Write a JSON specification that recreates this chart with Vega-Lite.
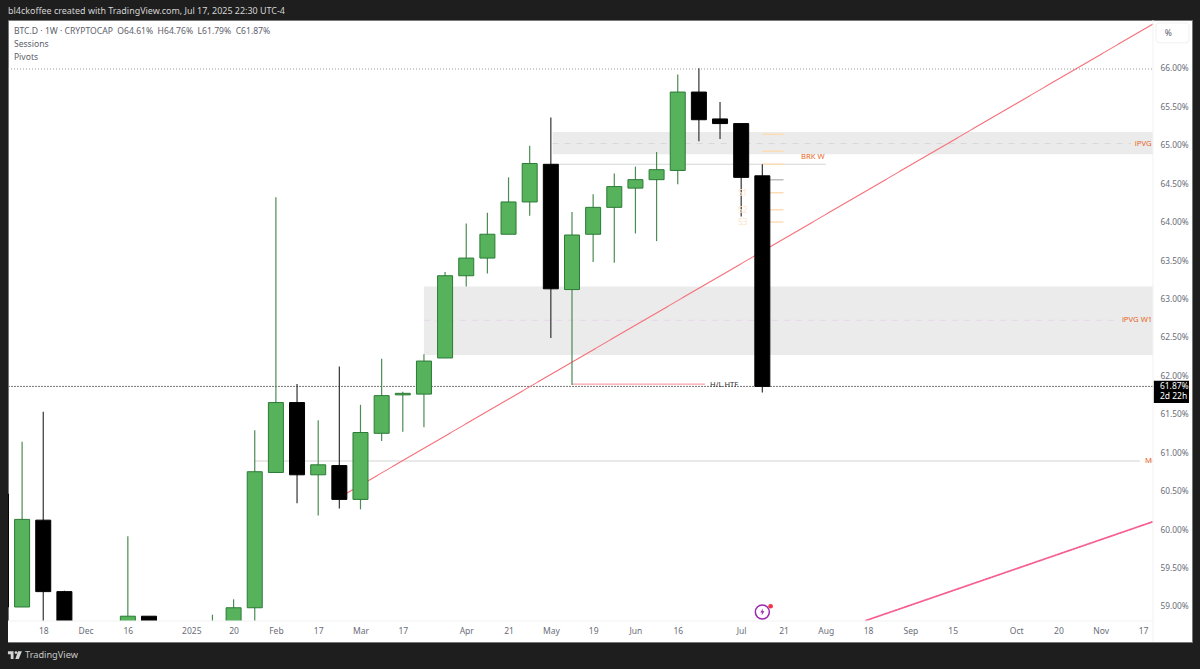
{
  "$schema": "https://vega.github.io/schema/vega-lite/v6.json",
  "autosize": "none",
  "width": 1184,
  "height": 622,
  "padding": {"left": 8, "top": 20, "right": 8, "bottom": 27},
  "background": "#1e1e1e",
  "view": {"fill": "#ffffff", "stroke": "#777777"},
  "config": {"font": "Noto Sans"},
  "resolve": {"scale": {"color": "independent"}},
  "datasets": {
    "candles": [
      {"d": "2024-11-04", "open": 60.47, "high": 60.47, "low": 59.0, "close": 59.0},
      {"d": "2024-11-11", "open": 59.0, "high": 61.15, "low": 59.0, "close": 60.14},
      {"d": "2024-11-18", "open": 60.13, "high": 61.54, "low": 58.6, "close": 59.2},
      {"d": "2024-11-25", "open": 59.2, "high": 59.21, "low": 58.5, "close": 58.6},
      {"d": "2024-12-16", "open": 58.6, "high": 59.92, "low": 58.5, "close": 58.88},
      {"d": "2024-12-23", "open": 58.88, "high": 58.88, "low": 58.5, "close": 58.6},
      {"d": "2025-01-13", "open": 58.6, "high": 58.9, "low": 58.5, "close": 58.7},
      {"d": "2025-01-20", "open": 58.6, "high": 59.1, "low": 58.5, "close": 58.99},
      {"d": "2025-01-27", "open": 58.99, "high": 61.3, "low": 58.6, "close": 60.76},
      {"d": "2025-02-03", "open": 60.75, "high": 64.33, "low": 60.75, "close": 61.66},
      {"d": "2025-02-10", "open": 61.66, "high": 61.9, "low": 60.35, "close": 60.72},
      {"d": "2025-02-17", "open": 60.72, "high": 61.43, "low": 60.19, "close": 60.85},
      {"d": "2025-02-24", "open": 60.84, "high": 62.13, "low": 60.28, "close": 60.4},
      {"d": "2025-03-03", "open": 60.4, "high": 61.63, "low": 60.27, "close": 61.27},
      {"d": "2025-03-10", "open": 61.26, "high": 62.23, "low": 61.16, "close": 61.75},
      {"d": "2025-03-17", "open": 61.76, "high": 61.8, "low": 61.28, "close": 61.78},
      {"d": "2025-03-24", "open": 61.77, "high": 62.29, "low": 61.34, "close": 62.2},
      {"d": "2025-03-31", "open": 62.24, "high": 63.36, "low": 62.24, "close": 63.31},
      {"d": "2025-04-07", "open": 63.31, "high": 63.99, "low": 63.17, "close": 63.54},
      {"d": "2025-04-14", "open": 63.54, "high": 64.13, "low": 63.34, "close": 63.85},
      {"d": "2025-04-21", "open": 63.85, "high": 64.59, "low": 63.85, "close": 64.27},
      {"d": "2025-04-28", "open": 64.27, "high": 65.0, "low": 64.09, "close": 64.77},
      {"d": "2025-05-05", "open": 64.76, "high": 65.37, "low": 62.5, "close": 63.14},
      {"d": "2025-05-12", "open": 63.13, "high": 64.14, "low": 61.89, "close": 63.84},
      {"d": "2025-05-19", "open": 63.85, "high": 64.37, "low": 63.49, "close": 64.2},
      {"d": "2025-05-26", "open": 64.2, "high": 64.64, "low": 63.48, "close": 64.47},
      {"d": "2025-06-02", "open": 64.45, "high": 64.73, "low": 63.86, "close": 64.56},
      {"d": "2025-06-09", "open": 64.56, "high": 64.92, "low": 63.76, "close": 64.69},
      {"d": "2025-06-16", "open": 64.68, "high": 65.93, "low": 64.5, "close": 65.7},
      {"d": "2025-06-23", "open": 65.7, "high": 66.01, "low": 65.06, "close": 65.34},
      {"d": "2025-06-30", "open": 65.35, "high": 65.57, "low": 65.09, "close": 65.29},
      {"d": "2025-07-07", "open": 65.29, "high": 65.29, "low": 64.08, "close": 64.59},
      {"d": "2025-07-14", "open": 64.61, "high": 64.76, "low": 61.79, "close": 61.87}
    ],
    "segments": [
      {"series": "top", "d": "2024-11-06T08:00Z", "d2": "2025-11-20T07:00Z", "v": 66.0, "v2": 66.0},
      {"series": "last", "d": "2024-11-06T08:00Z", "d2": "2025-11-20T07:00Z", "v": 61.87, "v2": 61.87},
      {"series": "ipvg", "d": "2025-05-05T14:00Z", "d2": "2025-11-13T00:00Z", "v": 65.03, "v2": 65.03},
      {"series": "ipvgw", "d": "2025-03-24", "d2": "2025-11-09T00:00Z", "v": 62.73, "v2": 62.73},
      {"series": "level", "d": "2025-05-05", "d2": "2025-08-04", "v": 64.76, "v2": 64.76},
      {"series": "level", "d": "2025-01-27", "d2": "2025-11-15T22:00Z", "v": 60.9, "v2": 60.9},
      {"series": "level", "d": "2025-11-19T07:00Z", "d2": "2025-11-20T07:00Z", "v": 60.9, "v2": 60.9},
      {"series": "htf", "d": "2025-05-12", "d2": "2025-06-25", "v": 61.9, "v2": 61.9},
      {"series": "trend", "d": "2025-02-26", "d2": "2025-11-20T07:00Z", "v": 60.47, "v2": 66.585},
      {"series": "channel", "d": "2025-08-17", "d2": "2025-11-20T07:00Z", "v": 58.82, "v2": 60.11},
      {"series": "pivot", "d": "2025-07-14", "d2": "2025-07-21", "v": 65.15, "v2": 65.15},
      {"series": "pivot", "d": "2025-07-14", "d2": "2025-07-21", "v": 64.93, "v2": 64.93},
      {"series": "pivot", "d": "2025-07-14", "d2": "2025-07-21", "v": 64.76, "v2": 64.76},
      {"series": "pivotp", "d": "2025-07-14", "d2": "2025-07-21", "v": 64.56, "v2": 64.56},
      {"series": "pivot", "d": "2025-07-14", "d2": "2025-07-21", "v": 64.39, "v2": 64.39},
      {"series": "pivot", "d": "2025-07-14", "d2": "2025-07-21", "v": 64.17, "v2": 64.17},
      {"series": "pivot", "d": "2025-07-14", "d2": "2025-07-21", "v": 64.01, "v2": 64.01}
    ],
    "labels": [
      {"group": "head", "d": "2024-11-06T08:00Z", "v": 66.755, "label": "bl4ckoffee created with TradingView.com, Jul 17, 2025 22:30 UTC-4"},
      {"group": "legend", "d": "2024-11-08T07:00Z", "v": 66.495, "label": "BTC.D · 1W · CRYPTOCAP\u00a0\u00a0O64.61%\u00a0\u00a0H64.76%\u00a0\u00a0L61.79%\u00a0\u00a0C61.87%"},
      {"group": "legend", "d": "2024-11-08T07:00Z", "v": 66.325, "label": "Sessions"},
      {"group": "legend", "d": "2024-11-08T07:00Z", "v": 66.155, "label": "Pivots"},
      {"group": "brand", "d": "2024-11-11T23:00Z", "v": 58.375, "label": "TradingView"},
      {"group": "orange", "d": "2025-07-26T19:00Z", "v": 64.855, "label": "BRK W"},
      {"group": "orange", "d": "2025-11-14T07:00Z", "v": 65.03, "label": "iPVG"},
      {"group": "orange", "d": "2025-11-10T00:00Z", "v": 62.73, "label": "iPVG W1"},
      {"group": "orange", "d": "2025-11-17T15:00Z", "v": 60.9, "label": "M"},
      {"group": "dark", "d": "2025-06-26T17:00Z", "v": 61.89, "label": "H/L HTF"},
      {"group": "pale", "d": "2025-07-05T22:00Z", "v": 64.39, "label": "S1"},
      {"group": "pale", "d": "2025-07-05T22:00Z", "v": 64.17, "label": "S2"},
      {"group": "pale", "d": "2025-07-05T22:00Z", "v": 64.01, "label": "S3"},
      {"group": "legend", "d": "2025-11-24T05:00Z", "v": 66.47, "label": "%"},
      {"group": "tag", "d": "2025-11-22T14:00Z", "v": 61.87, "label": "61.87%"},
      {"group": "tag", "d": "2025-11-22T14:00Z", "v": 61.74, "label": "2d 22h"}
    ]
  },
  "encoding": {
    "x": {
      "field": "d",
      "type": "temporal",
      "title": null,
      "scale": {
        "type": "utc",
        "padding": 0,
        "domain": [
          {"year": 2024, "month": 11, "date": 6, "hours": 8, "utc": true},
          {"year": 2025, "month": 12, "date": 3, "hours": 5, "utc": true}
        ]
      },
      "axis": {
        "orient": "bottom",
        "offset": -21,
        "zindex": 1,
        "domain": false,
        "ticks": false,
        "grid": false,
        "labelFontSize": 8.5,
        "labelColor": "#6a6d78",
        "labelPadding": 5,
        "labelOverlap": false,
        "labelFlush": false,
        "values": [
          {"year": 2024, "month": 11, "date": 18, "utc": true},
          {"year": 2024, "month": 12, "date": 2, "utc": true},
          {"year": 2024, "month": 12, "date": 16, "utc": true},
          {"year": 2025, "month": 1, "date": 6, "utc": true},
          {"year": 2025, "month": 1, "date": 20, "utc": true},
          {"year": 2025, "month": 2, "date": 3, "utc": true},
          {"year": 2025, "month": 2, "date": 17, "utc": true},
          {"year": 2025, "month": 3, "date": 3, "utc": true},
          {"year": 2025, "month": 3, "date": 17, "utc": true},
          {"year": 2025, "month": 4, "date": 7, "utc": true},
          {"year": 2025, "month": 4, "date": 21, "utc": true},
          {"year": 2025, "month": 5, "date": 5, "utc": true},
          {"year": 2025, "month": 5, "date": 19, "utc": true},
          {"year": 2025, "month": 6, "date": 2, "utc": true},
          {"year": 2025, "month": 6, "date": 16, "utc": true},
          {"year": 2025, "month": 7, "date": 7, "utc": true},
          {"year": 2025, "month": 7, "date": 21, "utc": true},
          {"year": 2025, "month": 8, "date": 4, "utc": true},
          {"year": 2025, "month": 8, "date": 18, "utc": true},
          {"year": 2025, "month": 9, "date": 1, "utc": true},
          {"year": 2025, "month": 9, "date": 15, "utc": true},
          {"year": 2025, "month": 10, "date": 6, "utc": true},
          {"year": 2025, "month": 10, "date": 20, "utc": true},
          {"year": 2025, "month": 11, "date": 3, "utc": true},
          {"year": 2025, "month": 11, "date": 17, "utc": true}
        ],
        "labelExpr": "utcdate(datum.value) <= 7 ? (utcmonth(datum.value) == 0 ? utcFormat(datum.value, '%Y') : utcFormat(datum.value, '%b')) : utcFormat(datum.value, '%-d')"
      }
    },
    "y": {
      "field": "v",
      "type": "quantitative",
      "title": null,
      "scale": {"domain": [58.5445, 66.6375], "nice": false, "zero": false},
      "axis": {
        "orient": "right",
        "offset": -39,
        "zindex": 1,
        "domain": false,
        "ticks": false,
        "grid": false,
        "labelFontSize": 8.3,
        "labelColor": "#6a6d78",
        "labelPadding": 7,
        "labelOverlap": false,
        "values": [59, 59.5, 60, 60.5, 61, 61.5, 62, 62.5, 63, 63.5, 64, 64.5, 65, 65.5, 66],
        "labelExpr": "format(datum.value, '.2f') + '%'"
      }
    }
  },
  "layer": [
    {
      "data": {"values": [
        {"d": "2025-05-05T14:00Z", "d2": "2025-11-20T07:00Z", "v": 65.18, "v2": 64.89},
        {"d": "2025-03-24", "d2": "2025-11-20T07:00Z", "v": 63.17, "v2": 62.28}
      ]},
      "mark": {"type": "rect", "fill": "#ebebeb", "clip": true},
      "encoding": {"x2": {"field": "d2"}, "y2": {"field": "v2"}}
    },
    {
      "data": {"name": "segments"},
      "mark": {"type": "rule", "clip": true},
      "encoding": {
        "x2": {"field": "d2"},
        "y2": {"field": "v2"},
        "color": {
          "field": "series",
          "type": "nominal",
          "legend": null,
          "scale": {
            "domain": ["top", "last", "ipvg", "ipvgw", "level", "htf", "trend", "channel", "pivot", "pivotp"],
            "range": ["#9a9a9a", "#777777", "#d9d9d9", "#e6d6e8", "#d4d4d4", "#f6a3aa", "#f5707a", "#f55f92", "#fcdcb5", "#bdbdbd"]
          }
        },
        "strokeWidth": {
          "field": "series",
          "type": "nominal",
          "legend": null,
          "scale": {
            "type": "ordinal",
            "domain": ["top", "last", "ipvg", "ipvgw", "level", "htf", "trend", "channel", "pivot", "pivotp"],
            "range": [1, 1, 1, 1, 1.1, 1.3, 1.1, 1.7, 1.5, 1.5]
          }
        },
        "strokeDash": {
          "field": "series",
          "type": "nominal",
          "legend": null,
          "scale": {
            "domain": ["top", "last", "ipvg", "ipvgw", "level", "htf", "trend", "channel", "pivot", "pivotp"],
            "range": [[1, 2], [2, 1], [6, 6], [6, 6], [1, 0], [1, 0], [1, 0], [1, 0], [1, 0], [1, 0]]
          }
        }
      }
    },
    {
      "data": {"name": "candles"},
      "mark": {"type": "rule", "strokeWidth": 1.2, "clip": true},
      "encoding": {
        "y": {
          "field": "low",
          "type": "quantitative",
          "title": null,
          "scale": {"domain": [58.5445, 66.6375], "nice": false, "zero": false},
          "axis": {
            "orient": "right",
            "offset": -39,
            "zindex": 1,
            "domain": false,
            "ticks": false,
            "grid": false,
            "labelFontSize": 8.3,
            "labelColor": "#6a6d78",
            "labelPadding": 7,
            "labelOverlap": false,
            "values": [59, 59.5, 60, 60.5, 61, 61.5, 62, 62.5, 63, 63.5, 64, 64.5, 65, 65.5, 66],
            "labelExpr": "format(datum.value, '.2f') + '%'"
          }
        },
        "y2": {"field": "high"},
        "color": {"condition": {"test": "datum.close > datum.open", "value": "#4b8c52"}, "value": "#333333"}
      }
    },
    {
      "data": {"name": "candles"},
      "mark": {"type": "bar", "size": 15, "strokeWidth": 1, "clip": true},
      "encoding": {
        "y": {
          "field": "open",
          "type": "quantitative",
          "title": null,
          "scale": {"domain": [58.5445, 66.6375], "nice": false, "zero": false},
          "axis": {
            "orient": "right",
            "offset": -39,
            "zindex": 1,
            "domain": false,
            "ticks": false,
            "grid": false,
            "labelFontSize": 8.3,
            "labelColor": "#6a6d78",
            "labelPadding": 7,
            "labelOverlap": false,
            "values": [59, 59.5, 60, 60.5, 61, 61.5, 62, 62.5, 63, 63.5, 64, 64.5, 65, 65.5, 66],
            "labelExpr": "format(datum.value, '.2f') + '%'"
          }
        },
        "y2": {"field": "close"},
        "fill": {"condition": {"test": "datum.close > datum.open", "value": "#56b35c"}, "value": "#000000"},
        "stroke": {"condition": {"test": "datum.close > datum.open", "value": "#2b7a35"}, "value": "#000000"}
      }
    },
    {
      "data": {"values": [
        {"d": "2024-11-06T08:00Z", "d2": "2025-12-03T05:00Z", "v": 58.5445, "v2": 58.818}
      ]},
      "mark": {"type": "rect", "fill": "#ffffff"},
      "encoding": {"x2": {"field": "d2"}, "y2": {"field": "v2"}}
    },
    {
      "data": {"values": [
        {"d": "2024-11-06T08:00Z", "d2": "2025-11-20T07:00Z", "v": 58.818, "v2": 58.818},
        {"d": "2025-11-20T07:00Z", "d2": "2025-11-20T07:00Z", "v": 58.5445, "v2": 66.6375}
      ]},
      "mark": {"type": "rule", "stroke": "#f2f2f2", "strokeWidth": 1},
      "encoding": {"x2": {"field": "d2"}, "y2": {"field": "v2"}}
    },
    {
      "data": {"values": [
        {"d": "2025-11-21T07:00Z", "d2": "2025-12-02T05:00Z", "v": 66.6, "v2": 66.34}
      ]},
      "mark": {"type": "rect", "fill": "#ffffff", "stroke": "#f0f0f0", "cornerRadius": 3},
      "encoding": {"x2": {"field": "d2"}, "y2": {"field": "v2"}}
    },
    {
      "data": {"values": [
        {"d": "2025-11-20T14:00Z", "d2": "2025-12-02T05:00Z", "v": 61.944, "v2": 61.654}
      ]},
      "mark": {"type": "rect", "fill": "#000000"},
      "encoding": {"x2": {"field": "d2"}, "y2": {"field": "v2"}}
    },
    {
      "data": {"values": [{"d": "2025-07-14", "v": 58.935}]},
      "mark": {"type": "point", "shape": "circle", "filled": false, "size": 196, "stroke": "#9c27b0", "strokeWidth": 1.5, "opacity": 1}
    },
    {
      "data": {"values": [{"d": "2025-07-14", "v": 58.935}]},
      "mark": {"type": "point", "shape": "M0.2,-1 L-0.6,0.15 L-0.05,0.15 L-0.25,1 L0.6,-0.2 L0.05,-0.2 Z", "filled": true, "size": 50, "fill": "#9c27b0", "opacity": 1}
    },
    {
      "data": {"values": [{"d": "2025-07-16T18:00Z", "v": 59.01}]},
      "mark": {"type": "point", "shape": "circle", "filled": true, "size": 22, "fill": "#f23645", "opacity": 1}
    },
    {
      "data": {"values": [{"d": "2024-11-08T15:00Z", "v": 58.375}]},
      "mark": {"type": "point", "shape": "M-1,-0.55 H-0.2 V0.55 H-0.6 V-0.1 H-1 Z M0.15,-0.55 A0.2,0.2 0 1 1 0.15,-0.15 A0.2,0.2 0 1 1 0.15,-0.55 Z M0.45,-0.55 H1 L0.55,0.55 H0.05 Z", "filled": true, "size": 196, "fill": "#d4d4d4", "opacity": 1}
    },
    {
      "data": {"name": "labels"},
      "mark": {"type": "text", "align": "left", "baseline": "middle"},
      "encoding": {
        "text": {"field": "label"},
        "color": {
          "field": "group",
          "type": "nominal",
          "legend": null,
          "scale": {
            "domain": ["head", "legend", "brand", "orange", "dark", "pale", "tag"],
            "range": ["#d4d4d4", "#5d606b", "#c8c8c8", "#e8651e", "#333333", "#fde5cc", "#ffffff"]
          }
        },
        "size": {
          "field": "group",
          "type": "nominal",
          "legend": null,
          "scale": {
            "type": "ordinal",
            "domain": ["head", "legend", "brand", "orange", "dark", "pale", "tag"],
            "range": [8.95, 8.6, 9.2, 7.7, 7.6, 8.5, 8.5]
          }
        }
      }
    }
  ]
}
